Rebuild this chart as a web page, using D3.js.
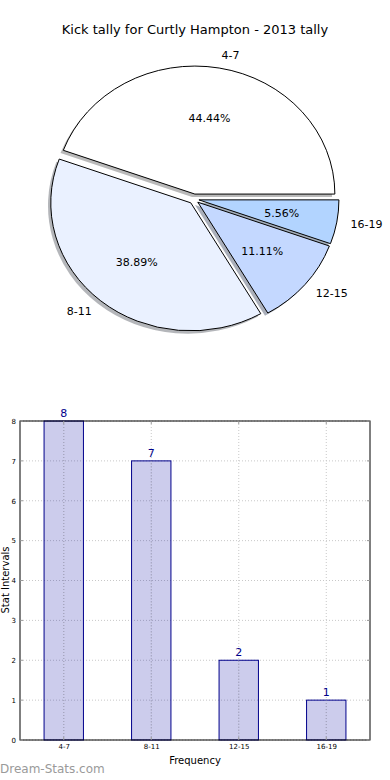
<!DOCTYPE html>
<html><head><meta charset="utf-8">
<script src="https://cdn.jsdelivr.net/npm/d3@7"></script>
<style>body{margin:0;background:#fff}svg{display:block}text{font-family:"DejaVu Sans",sans-serif}</style>
</head><body><svg id="c" width="390" height="780"></svg>
<script>
const categories = ["4-7","8-11","12-15","16-19"];
const counts = [8,7,2,1];
const sliceColors = ["#ffffff","#eaf1ff","#c4d8ff","#b2d4ff"];
const yTicks = [0,1,2,3,4,5,6,7,8];
const titleText = "Kick tally for Curtly Hampton - 2013 tally";

const svg = d3.select("#c");
svg.append("rect").attr("width",390).attr("height",780).attr("fill","#fff");

// ---------- PIE ----------
svg.append("text").attr("x",195).attr("y",34).attr("text-anchor","middle")
  .attr("font-size",13).attr("fill","#000").text(titleText);

const cx = 194, cy = 199, rx = 140, ry = 128, ex = 5;
const sy = ry/rx;
const total = d3.sum(counts);
const pie = d3.pie().sort(null).startAngle(Math.PI/2).endAngle(Math.PI/2 - 2*Math.PI);
const arcs = pie(counts);
const arc = d3.arc().innerRadius(0).outerRadius(rx);
const gp = svg.append("g").attr("transform",`translate(${cx},${cy}) scale(1,${sy})`);

function mid(d){ // d3 angle -> screen direction
  const a = (d.startAngle + d.endAngle)/2;
  return [Math.sin(a), -Math.cos(a)];
}
// shadows
arcs.forEach((d,i)=>{
  const [dx,dy] = mid(d);
  gp.append("path").attr("d",arc(d))
    .attr("transform",`translate(${dx*ex - 2.8},${dy*ex/sy + 2.8/sy})`)
    .attr("fill", d3.color(sliceColors[i]).darker(1.9)).attr("fill-opacity",0.55);
});
arcs.forEach((d,i)=>{
  const [dx,dy] = mid(d);
  gp.append("path").attr("d",arc(d))
    .attr("transform",`translate(${dx*ex},${dy*ex/sy})`)
    .attr("fill",sliceColors[i]).attr("stroke","#000").attr("stroke-width",1)
    .attr("vector-effect","non-scaling-stroke");
});
arcs.forEach((d,i)=>{
  const [dx,dy] = mid(d);
  const ox = cx + dx*ex, oy = cy + dy*ex;
  const lx = ox + dx*1.1*rx, ly = oy + dy*1.1*ry;
  svg.append("text").attr("x",lx).attr("y",ly).attr("dy","0.35em")
    .attr("text-anchor", dx>0 ? "start":"end").attr("font-size",11).text(categories[i]);
  const px = ox + dx*0.6*rx, py = oy + dy*0.6*ry;
  svg.append("text").attr("x",px).attr("y",py).attr("dy","0.35em")
    .attr("text-anchor","middle").attr("font-size",11)
    .text((counts[i]/total*100).toFixed(2)+"%");
});

// ---------- BAR ----------
const L=20, R=370, T=421, B=740;
const x = d3.scaleLinear().domain([-0.5,3.5]).range([L,R]);
const y = d3.scaleLinear().domain([0,8]).range([B,T]);
const gb = svg.append("g");
yTicks.forEach(t=>{
  gb.append("line").attr("x1",L).attr("x2",R).attr("y1",y(t)).attr("y2",y(t))
    .attr("stroke","#c8c8c8").attr("stroke-dasharray","1,2");
});
categories.forEach((c,i)=>{
  gb.append("line").attr("x1",x(i)).attr("x2",x(i)).attr("y1",T).attr("y2",B)
    .attr("stroke","#c8c8c8").attr("stroke-dasharray","1,2");
});
const bw = 0.45;
categories.forEach((c,i)=>{
  gb.append("rect").attr("x",x(i-bw/2)).attr("width",x(bw)-x(0))
    .attr("y",y(counts[i])).attr("height",y(0)-y(counts[i]))
    .attr("fill","#0000a0").attr("fill-opacity",0.2).attr("stroke","#00008b").attr("stroke-width",1);
  gb.append("text").attr("x",x(i)).attr("y",y(counts[i])-4).attr("text-anchor","middle")
    .attr("font-size",11).attr("fill","#00008b").text(counts[i]);
});
categories.forEach((c,i)=>{
  gb.append("line").attr("x1",x(i)).attr("x2",x(i)).attr("y1",y(counts[i])).attr("y2",B)
    .attr("stroke","#a0a0b0").attr("stroke-opacity",0.6).attr("stroke-dasharray","1,2");
});
gb.append("rect").attr("x",L).attr("y",T).attr("width",R-L).attr("height",B-T)
  .attr("fill","none").attr("stroke","#000").attr("stroke-width",1);
const ya = d3.axisLeft(y).tickValues(yTicks).tickSize(0).tickPadding(4);
const yg = svg.append("g").attr("transform",`translate(${L},0)`).call(ya);
yg.select(".domain").remove();
yg.selectAll("text").attr("font-size",7).attr("font-family","DejaVu Sans").attr("fill","#000");
const xa = d3.axisBottom(x).tickValues(d3.range(categories.length)).tickFormat(i=>categories[i]).tickSize(0).tickPadding(4);
const xg = svg.append("g").attr("transform",`translate(0,${B})`).call(xa);
xg.select(".domain").remove();
xg.selectAll("text").attr("font-size",7).attr("font-family","DejaVu Sans").attr("fill","#000");
yTicks.forEach(t=>{
  svg.append("line").attr("x1",L).attr("x2",L+3).attr("y1",y(t)).attr("y2",y(t)).attr("stroke","#999");
  svg.append("line").attr("x1",R-3).attr("x2",R).attr("y1",y(t)).attr("y2",y(t)).attr("stroke","#999");
});
categories.forEach((c,i)=>{
  svg.append("line").attr("x1",x(i)).attr("x2",x(i)).attr("y1",B-3).attr("y2",B).attr("stroke","#999");
  svg.append("line").attr("x1",x(i)).attr("x2",x(i)).attr("y1",T).attr("y2",T+3).attr("stroke","#999");
});
svg.append("text").attr("x",195).attr("y",764).attr("text-anchor","middle").attr("font-size",10).text("Frequency");
svg.append("text").attr("transform","translate(9,580) rotate(-90)").attr("text-anchor","middle")
  .attr("font-size",10).text("Stat Intervals");
svg.append("text").attr("x",0).attr("y",773).attr("font-size",12)
  .attr("fill","#9a9a9a").text("Dream-Stats.com");
</script></body></html>
